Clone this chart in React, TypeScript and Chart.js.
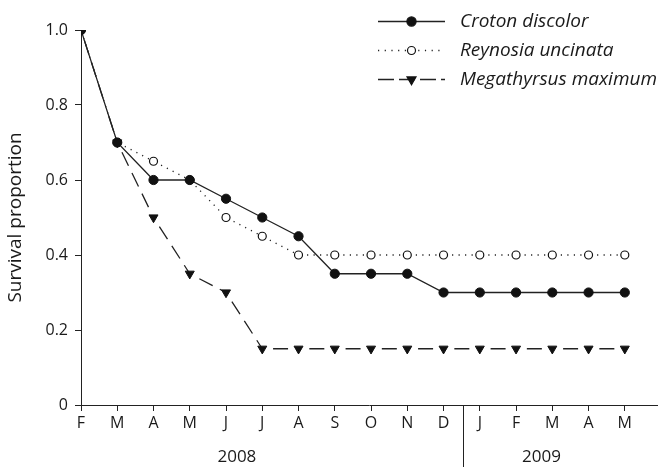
import React, { useEffect, useRef } from "react";
import { Chart, registerables } from "chart.js";

Chart.register(...registerables);

const months = ["F", "M", "A", "M", "J", "J", "A", "S", "O", "N", "D", "J", "F", "M", "A", "M"];
const croton = [1.0, 0.7, 0.6, 0.6, 0.55, 0.5, 0.45, 0.35, 0.35, 0.35, 0.3, 0.3, 0.3, 0.3, 0.3, 0.3];
const reynosia = [1.0, 0.7, 0.65, 0.6, 0.5, 0.45, 0.4, 0.4, 0.4, 0.4, 0.4, 0.4, 0.4, 0.4, 0.4, 0.4];
const megathyrsus = [1.0, 0.7, 0.5, 0.35, 0.3, 0.15, 0.15, 0.15, 0.15, 0.15, 0.15, 0.15, 0.15, 0.15, 0.15, 0.15];
const seriesNames = ["Croton discolor", "Reynosia uncinata", "Megathyrsus maximum"];
const yTicks = [0, 0.2, 0.4, 0.6, 0.8, 1.0];
const years = ["2008", "2009"];
// layout (axis units): where the year labels sit, and where the year divider falls
const yearCenters = [4.3, 12.7];
const yearDivider = 10.55;

const FONT = "'Open Sans', 'DejaVu Sans', sans-serif";
const LINE = "#222";
const MARK = "#111";
const TEXT = "#1a1a1a";

const DOT_DASH = [1.2, 5.3];
const LONG_DASH = [0, 10.8, 15, 8, 15, 8, 15, 8];

const toPts = (arr: number[]) => arr.map((v, i) => ({ x: i, y: v }));

const annotations = {
  id: "annotations",
  afterDraw(chart: any) {
    const ctx = chart.ctx as CanvasRenderingContext2D;
    const xs = chart.scales.x;
    const ys = chart.scales.y;
    ctx.save();
    // y title
    ctx.fillStyle = TEXT;
    ctx.font = `19px ${FONT}`;
    ctx.textAlign = "center";
    ctx.textBaseline = "middle";
    ctx.save();
    ctx.translate(16, (ys.top + ys.bottom) / 2);
    ctx.rotate(-Math.PI / 2);
    ctx.fillText("Survival proportion", 0, 0);
    ctx.restore();
    // years
    ctx.font = `17px ${FONT}`;
    years.forEach((yr, i) => {
      ctx.fillText(yr, xs.getPixelForValue(yearCenters[i]), 457);
    });
    // divider
    const dx = Math.round(xs.getPixelForValue(yearDivider)) + 0.5;
    ctx.strokeStyle = LINE;
    ctx.lineWidth = 1;
    ctx.beginPath();
    ctx.moveTo(dx, ys.bottom);
    ctx.lineTo(dx, chart.height);
    ctx.stroke();
    // legend
    const rows = [21, 50, 79];
    const lx0 = 378;
    const lx1 = 445;
    const mx = 411.5;
    const dashes = [[], [1.2, 5.5], [16, 5]];
    chart.data.datasets.forEach((ds: any, i: number) => {
      const y = rows[i] + 0.5;
      ctx.setLineDash(dashes[i]);
      ctx.strokeStyle = LINE;
      ctx.lineWidth = 1.3;
      ctx.beginPath();
      ctx.moveTo(lx0, y);
      ctx.lineTo(lx1, y);
      ctx.stroke();
      ctx.setLineDash([]);
      ctx.fillStyle = ds.pointBackgroundColor;
      ctx.strokeStyle = MARK;
      ctx.lineWidth = 1.2;
      ctx.beginPath();
      if (ds.pointStyle === "triangle") {
        const r = ds.pointRadius;
        ctx.moveTo(mx, y + r);
        ctx.lineTo(mx - r * 0.866, y - r / 2);
        ctx.lineTo(mx + r * 0.866, y - r / 2);
        ctx.closePath();
      } else {
        ctx.arc(mx, y, ds.pointRadius, 0, Math.PI * 2);
      }
      ctx.fill();
      ctx.stroke();
      ctx.fillStyle = TEXT;
      ctx.font = `italic 19px ${FONT}`;
      ctx.textAlign = "left";
      ctx.textBaseline = "middle";
      ctx.fillText(seriesNames[i], 460, y);
    });
    ctx.restore();
  },
};

export default function App() {
  const ref = useRef<HTMLCanvasElement | null>(null);
  useEffect(() => {
    if (!ref.current) return;
    const chart = new Chart(ref.current, {
      type: "line",
      data: {
        datasets: [
          {
            label: seriesNames[0],
            data: toPts(croton),
            borderColor: LINE,
            borderWidth: 1.3,
            pointStyle: "circle",
            pointRadius: 4.6,
            pointBackgroundColor: MARK,
            pointBorderColor: MARK,
            pointBorderWidth: 1,
          },
          {
            label: seriesNames[1],
            data: toPts(reynosia),
            borderColor: LINE,
            borderWidth: 1.3,
            borderDash: DOT_DASH,
            segment: {
              borderDashOffset: (c: any) => (c.p0DataIndex % 2 ? 4.5 : 11.0),
            },
            pointStyle: "circle",
            pointRadius: 4,
            pointBackgroundColor: "#fff",
            pointBorderColor: MARK,
            pointBorderWidth: 1.2,
          },
          {
            label: seriesNames[2],
            data: toPts(megathyrsus),
            borderColor: LINE,
            borderWidth: 1.3,
            borderDash: LONG_DASH,
            segment: {
              borderDashOffset: (c: any) => (c.p0DataIndex % 2 ? 0 : 79.8),
            },
            pointStyle: "triangle",
            rotation: 180,
            pointRadius: 5.2,
            pointBackgroundColor: MARK,
            pointBorderColor: MARK,
            pointBorderWidth: 1,
          },
        ] as any,
      },
      options: {
        animation: false,
        responsive: false,
        devicePixelRatio: 1,
        layout: { padding: { top: 30, right: 1, left: 0, bottom: 0 } },
        plugins: { legend: { display: false }, tooltip: { enabled: false } },
        scales: {
          x: {
            type: "linear",
            min: 0,
            max: 15.91,
            afterFit: (s: any) => {
              s.height = 62;
            },
            afterBuildTicks: (s: any) => {
              s.ticks = months.map((_, i) => ({ value: i }));
            },
            ticks: {
              callback: (v: any) => months[v as number] ?? "",
              font: { family: FONT, size: 16 },
              color: TEXT,
              padding: 3,
              maxRotation: 0,
              autoSkip: false,
            },
            grid: { drawOnChartArea: false, drawTicks: true, tickLength: 6, color: LINE, lineWidth: 1 },
            border: { display: true, color: LINE, width: 1 },
          },
          y: {
            type: "linear",
            min: 0,
            max: 1,
            afterFit: (s: any) => {
              s.width = 81;
            },
            afterBuildTicks: (s: any) => {
              s.ticks = yTicks.map((v) => ({ value: v }));
            },
            ticks: {
              callback: (v: any) => (v === 0 ? "0" : Number(v).toFixed(1)),
              font: { family: FONT, size: 16 },
              color: TEXT,
              padding: 7,
            },
            grid: { drawOnChartArea: false, drawTicks: true, tickLength: 6, color: LINE, lineWidth: 1 },
            border: { display: true, color: LINE, width: 1 },
          },
        },
      },
      plugins: [annotations],
    });
    return () => chart.destroy();
  }, []);
  return (
    <div style={{ position: "fixed", left: 0, top: 0, width: 664, height: 467, background: "#fff" }}>
      <canvas ref={ref} width={664} height={467} style={{ display: "block" }} />
    </div>
  );
}
